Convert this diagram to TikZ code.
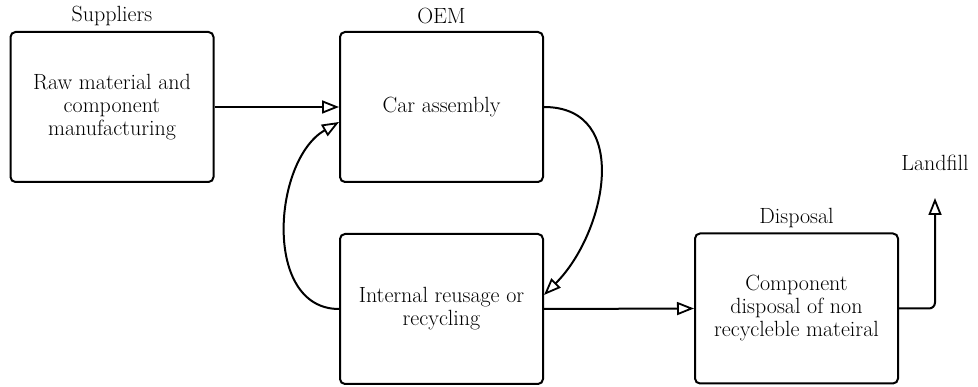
\documentclass[tikz,border=0pt]{standalone}
\usepackage{fontspec}
\setmainfont{Latin Modern Roman}
\usetikzlibrary{arrows.meta}
\begin{document}
\begin{tikzpicture}[x=1pt,y=1pt,
  stage/.style={draw, line width=2pt, rounded corners=5pt,
    minimum width=203pt, minimum height=150pt, align=center,
    font=\fontsize{22}{23}\selectfont, inner sep=2pt},
  tag/.style={font=\fontsize{22}{23}\selectfont, inner sep=0pt},
  flow/.style={line width=2pt,
    -{Triangle[open,length=17pt,width=13pt,line width=1.8pt]}}]
\useasboundingbox (0,0) rectangle (978,-387);

% process stages
\node[stage] (sup) at (112,-107) {Raw material and\\component\\manufacturing};
\node[stage] (oem) at (441.5,-107) {Car assembly};
\node[stage] (rec) at (441.5,-309) {Internal reusage or\\recycling};
\node[stage] (dis) at (796.5,-308.5) {Component\\disposal of non\\recycleble mateiral};

% stage headings
\node[tag] (tsup) at (112,-16) {Suppliers};
\node[tag] (toem) at (441.5,-16) {OEM};
\node[tag] (tdis) at (796.5,-218) {Disposal};
\node[tag] (tlf) at (935,-163) {Landfill};
\coordinate (lf) at (935,-198);

% material flows
\draw[flow] (sup.east) -- (oem.west);
\draw[flow] (rec.west) to[out=180,in=210,looseness=1.05] ([yshift=-15pt]oem.west);
\draw[flow] (oem.east) to[out=0,in=45,looseness=1.2] ([yshift=14pt]rec.east);
\draw[flow] (rec.east) -- (dis.west);
\draw[flow, rounded corners=6pt] (dis.east) -| (lf);
\end{tikzpicture}
\end{document}
